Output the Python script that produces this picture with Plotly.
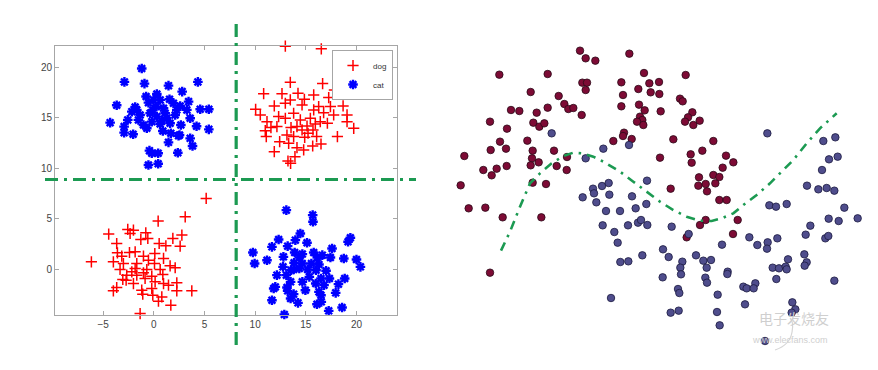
import plotly.graph_objects as go

W, H = 878, 370

# ---------------- Left panel data (data units) ----------------
dog_x = [12.98, 16.53, 13.47, 16.66, 19.33, 17.82, 10.84, 12.65, 14.23, 14.86, 15.78, 17.26, 10.05, 10.51,
         11.89, 12.98, 13.47, 14.63, 16.27, 17.43, 18.68, 19.07, 17.75, 12.32, 12.98, 13.8, 14.46, 15.45,
         16.43, 19.07, 11.17, 11.56, 11.0, 11.1, 12.15, 13.54, 14.13, 14.63, 15.12, 15.71, 15.94, 15.22,
         14.89, 16.07, 13.8, 13.14, 17.13, 18.12, 19.73, 12.42, 13.31, 14.13, 14.79, 15.68, 16.5, 11.89,
         13.93, 13.24, 13.5, 15.78, 16.76,
         5.17, 3.1, 0.43, -4.45, -2.57, -2.01, -0.79, 2.77, -2.34, -1.28, -0.59, -3.66, 0.53, 1.19, 1.88,
         2.6, -2.4, -1.84, -3.59, -3.16, -1.02, 0.1, -0.53, 0.96, -6.16, -3.99, -3.0, -1.68, 0.07, 1.61,
         -3.33, -1.84, -0.69, 0.63, 2.11, -2.67, -1.68, -1.02, -0.2, 0.89, -3.06, -2.01, -0.86, 0.13, 0.96,
         1.45, 2.27, -3.66, -3.99, -1.19, -0.2, 2.27, 3.75, -1.09, -0.1, 0.79, 0.46, 1.68, -1.35, -2.73, -2.17]
dog_y = [22.08, 21.82, 18.51, 18.38, 18.02, 17.76, 17.39, 17.39, 17.43, 16.83, 17.26, 17.0, 15.84, 15.28,
         16.17, 16.44, 16.77, 16.27, 16.11, 16.11, 16.17, 15.28, 15.28, 15.12, 14.95, 15.45, 14.79, 14.95,
         14.62, 14.62, 14.62, 14.03, 13.73, 13.14, 14.13, 14.03, 14.13, 13.8, 14.19, 13.8, 14.39, 13.47,
         13.07, 13.14, 13.14, 13.3, 14.46, 13.14, 13.96, 12.64, 12.48, 12.05, 11.82, 12.21, 12.41, 11.65,
         11.16, 10.73, 10.5, 15.78, 15.51,
         7.03, 5.21, 4.79, 3.5, 3.96, 3.89, 3.63, 3.4, 3.56, 2.97, 3.07, 2.57, 2.57, 2.34, 3.07,
         2.31, 1.68, 1.75, 1.65, 1.32, 1.32, 1.58, 0.92, 1.09, 0.76, 0.76, 0.59, 0.59, 0.59, 0.36,
         0.0, 0.1, 0.0, 0.0, 0.17, -0.56, -0.56, -0.33, -0.66, -0.5, -0.99, -1.39, -0.89, -1.22, -1.39,
         -1.55, -1.32, -1.78, -2.11, -2.05, -1.88, -2.11, -2.11, -2.44, -2.54, -2.71, -3.14, -3.53, -4.36, -1.06, -0.23]

cat_x = [-1.19, -2.9, -0.92, 4.35, 1.45, 2.8, -3.66, -4.31, -2.93, -2.93, -2.04, -1.84, -2.17, -2.57, -1.35,
         -0.76, -0.53, 0.3, 0.63, 1.55, 1.94, 2.6, 3.43, 2.27, -0.1, 0.3, 1.12, 0.63, 1.61, -0.2, -1.02,
         -0.69, 0.89, 1.68, 2.54, 2.67, 3.59, 4.58, 5.43, 4.22, 5.43, 3.59, 3.82, 2.44, 1.45, 2.37, -0.43,
         -0.2, 0.43, -0.53, 0.43, -1.52, -0.03, 0.96, -0.36, 1.28, 2.11, -1.68, 3.26, 0.23, 0.79,
         13.08, 15.68, 15.71, 14.46, 19.4, 19.17, 12.32, 13.21, 13.97, 15.12, 11.66, 17.59, 9.78, 13.9, 15.78,
         16.63, 12.79, 14.36, 17.43, 18.75, 20.0, 11.17, 9.95, 13.84, 14.66, 15.55, 16.3, 12.75, 20.39, 13.54,
         14.36, 15.18, 16.01, 17.0, 12.15, 13.08, 15.35, 16.5, 17.33, 18.84, 13.5, 14.66, 15.98, 16.8, 11.99,
         13.14, 18.22, 11.83, 14.96, 16.3, 13.21, 16.5, 17.95, 13.8, 11.66, 13.5, 14.23, 16.1, 16.53, 17.26,
         18.58, 12.88, 13.8, 14.66, 16.14]
cat_y = [19.87, 18.55, 18.38, 18.55, 18.18, 17.59, 16.24, 14.52, 14.13, 13.53, 13.37, 16.07, 15.61, 14.79, 15.28,
         17.1, 16.5, 17.36, 16.77, 16.83, 16.44, 16.17, 16.6, 15.78, 15.78, 15.12, 15.45, 14.39, 14.46, 14.62, 14.29,
         13.96, 13.7, 13.47, 13.3, 14.29, 14.95, 15.84, 15.84, 14.16, 13.86, 12.97, 12.21, 13.23, 12.57, 11.55, 11.75,
         11.49, 11.49, 10.33, 10.46, 14.79, 16.77, 15.94, 15.45, 14.95, 15.28, 15.78, 15.78, 16.11, 14.72,
         5.87, 5.38, 4.72, 3.56, 3.14, 2.74, 2.97, 2.31, 2.9, 2.64, 2.24, 2.08, 1.68, 1.68, 1.68,
         1.42, 1.25, 1.19, 1.19, 1.09, 0.99, 0.92, 0.59, 0.66, 0.59, 0.59, 0.5, 0.26, 0.26, -0.07,
         0.1, 0.0, -0.07, -0.13, -0.56, -0.56, -0.73, -0.89, -0.89, -0.89, -1.22, -1.22, -1.39, -1.55, -1.72,
         -1.78, -1.45, -1.88, -2.05, -2.21, -2.11, -2.54, -2.31, -2.44, -3.04, -2.87, -3.3, -3.43, -3.2, -4.09,
         -3.76, -4.45, 0.0, 1.52, 1.19]

x_ticks = [-5, 0, 5, 10, 15, 20]
y_ticks = [0, 5, 10, 15, 20]
boundary_x = 8.13
boundary_y = 8.9

# ---------------- Right panel data (image units, y downward) ----------------
red_x = [420, 437, 466, 568, 178, 323, 612, 737, 427, 441, 437, 544, 628, 657, 272, 356, 595, 632, 658, 549,
         373, 385, 400, 425, 213, 238, 290, 323, 544, 597, 614, 600, 607, 591, 610, 662, 720, 728, 757, 744,
         735, 760, 779, 150, 201, 280, 298, 313, 552, 575, 549, 520, 700, 820, 262, 180, 152, 198, 278, 276,
         272, 296, 342, 381, 350, 380, 73, 130, 170, 155, 200, 660, 752, 755, 787, 858, 880, 848, 777, 820,
         838, 775, 797, 801, 826, 838, 860, 62, 278, 318, 692, 86, 136, 188, 304, 893, 797, 780, 879, 740, 150]
red_y = [62, 85, 92, 71, 134, 132, 129, 135, 158, 158, 180, 157, 160, 156, 186, 198, 177, 187, 192, 195,
         222, 237, 234, 255, 240, 243, 248, 233, 229, 224, 241, 260, 270, 275, 285, 244, 206, 214, 247, 262,
         275, 285, 272, 275, 296, 278, 290, 280, 308, 327, 318, 333, 328, 333, 332, 335, 360, 356, 362, 385,
         406, 397, 362, 381, 408, 420, 378, 420, 416, 436, 408, 383, 373, 398, 362, 377, 397, 413, 442, 435,
         441, 467, 462, 484, 460, 510, 510, 466, 458, 462, 476, 535, 533, 562, 562, 570, 570, 585, 612, 622, 728]

blue_x = [335, 567, 490, 437, 982, 1150, 1186, 1167, 1193, 1146, 1101, 1135, 1160, 1183, 621, 459, 486, 506,
          462, 508, 428, 469, 576, 587, 619, 498, 540, 488, 523, 564, 594, 603, 622, 695, 533, 988, 1008, 1040,
          1213, 1253, 1166, 1196, 1111, 1097, 1156, 1165, 846, 746, 928, 952, 983, 981, 1012, 607, 541, 565,
          669, 686, 727, 768, 790, 813, 800, 721, 723, 668, 863, 862, 796, 801, 1044, 998, 1017, 1037, 1040,
          1093, 1100, 1094, 1009, 1183, 910, 920, 946, 941, 714, 718, 833, 513, 915, 1057, 1066, 1055, 692,
          716, 831, 839, 975]
blue_y = [310, 345, 356, 385, 310, 333, 322, 388, 380, 420, 467, 478, 474, 482, 452, 476, 468, 459,
          490, 494, 502, 517, 499, 535, 522, 543, 543, 586, 606, 586, 578, 570, 585, 590, 638, 526, 530, 522,
          533, 565, 566, 573, 587, 614, 625, 618, 644, 612, 622, 645, 637, 656, 625, 676, 696, 694,
          658, 681, 695, 676, 692, 690, 713, 713, 733, 742, 725, 732, 743, 758, 688, 713, 715, 710, 718,
          673, 697, 707, 747, 752, 770, 775, 760, 775, 777, 789, 794, 804, 823, 817, 838, 848, 848,
          842, 846, 886, 933]

curve_x = [183, 210, 240, 270, 300, 335, 370, 400, 425, 460, 490, 540, 580, 620, 660, 700, 740, 780, 815,
           845, 880, 910, 950, 990, 1020, 1060, 1100, 1140, 1190]
curve_y = [662, 605, 530, 460, 430, 400, 378, 368, 370, 380, 395, 425, 455, 485, 515, 540, 560, 572, 573,
           565, 550, 525, 495, 460, 430, 390, 340, 295, 250]

GREEN = "#1c9a52"
FONT = "Liberation Sans, Arial, sans-serif"

fig = go.Figure()

# left panel
fig.add_trace(go.Scatter(x=dog_x, y=dog_y, mode="markers", name="dog", xaxis="x", yaxis="y",
                         cliponaxis=False,
                         marker=dict(symbol="cross-thin-open", size=8, color="#ff0000",
                                     line=dict(color="#ff0000", width=1.5))))
fig.add_trace(go.Scatter(x=cat_x, y=cat_y, mode="markers", name="cat", xaxis="x", yaxis="y",
                         cliponaxis=False,
                         marker=dict(symbol="asterisk-open", size=8, color="#0000ff",
                                     line=dict(color="#0000ff", width=2.4))))

# right panel
fig.add_trace(go.Scatter(x=red_x, y=red_y, mode="markers", showlegend=False, xaxis="x2", yaxis="y2",
                         marker=dict(size=7.5, color="#7d0b35", line=dict(color="#2a0a18", width=0.8))))
fig.add_trace(go.Scatter(x=blue_x, y=blue_y, mode="markers", showlegend=False, xaxis="x2", yaxis="y2",
                         marker=dict(size=7.5, color="#4f4d8c", line=dict(color="#1c1a40", width=0.8))))
fig.add_trace(go.Scatter(x=curve_x, y=curve_y, mode="lines", showlegend=False, xaxis="x2", yaxis="y2",
                         line=dict(color=GREEN, width=2.6, dash="9px,6px,2.5px,6px")))

# boundary lines of left panel, extending past the axes box
fig.add_shape(type="line", xref="x", yref="paper", x0=boundary_x, x1=boundary_x,
              y0=1 - 345 / H, y1=1 - 24 / H, line=dict(color=GREEN, width=3.2, dash="13px,6px,3px,6px"),
              layer="above")
fig.add_shape(type="line", xref="paper", yref="y", x0=45 / W, x1=416 / W, y0=boundary_y, y1=boundary_y,
              line=dict(color=GREEN, width=3.2, dash="13px,6px,3px,6px"), layer="above")

# watermark
fig.add_annotation(x=831 / W, y=1 - 330 / H, xref="paper", yref="paper", text="电子发烧友",
                   showarrow=False, font=dict(family="Noto Sans CJK SC", size=14, color="#cfcfcf"))
fig.add_annotation(x=830 / W, y=1 - 347 / H, xref="paper", yref="paper", text="www.elecfans.com",
                   showarrow=False, font=dict(family=FONT, size=9, color="#cfcfcf"))
fig.add_shape(type="path", xref="paper", yref="paper",
              path="M {:.4f},{:.4f} Q {:.4f},{:.4f} {:.4f},{:.4f} Q {:.4f},{:.4f} {:.4f},{:.4f}".format(
                  775 / W, 1 - 350 / H, 790 / W, 1 - 345 / H, 792 / W, 1 - 332 / H,
                  794 / W, 1 - 322 / H, 790 / W, 1 - 318 / H),
              line=dict(color="#d6d6d6", width=1.2))

axis_common = dict(showgrid=False, zeroline=False, showline=True, linecolor="#a6a6a6", linewidth=1,
                   mirror="allticks", ticks="inside", ticklen=4, tickcolor="#a6a6a6",
                   tickfont=dict(family=FONT, size=10, color="#444444"))

fig.update_layout(
    width=W, height=H, margin=dict(l=0, r=0, t=0, b=0),
    paper_bgcolor="white", plot_bgcolor="white",
    xaxis=dict(domain=[55 / W, 397 / W], range=[-9.75, 24.0], tickvals=x_ticks, anchor="y", **axis_common),
    yaxis=dict(domain=[1 - 315 / H, 1 - 46 / H], range=[-4.5, 22.1], tickvals=y_ticks, anchor="x", **axis_common),
    xaxis2=dict(domain=[440 / W, 1.0], range=[0, 1314], visible=False, anchor="y2"),
    yaxis2=dict(domain=[1 - 350 / H, 1 - 30 / H], range=[960, 0], visible=False, anchor="x2"),
    legend=dict(x=393 / W, y=1 - 50 / H, xanchor="right", yanchor="top", bgcolor="white",
                bordercolor="#a6a6a6", borderwidth=1, font=dict(family=FONT, size=8, color="#333333"),
                itemwidth=30, tracegroupgap=0),
    showlegend=True,
)

fig.write_html("out.html")
